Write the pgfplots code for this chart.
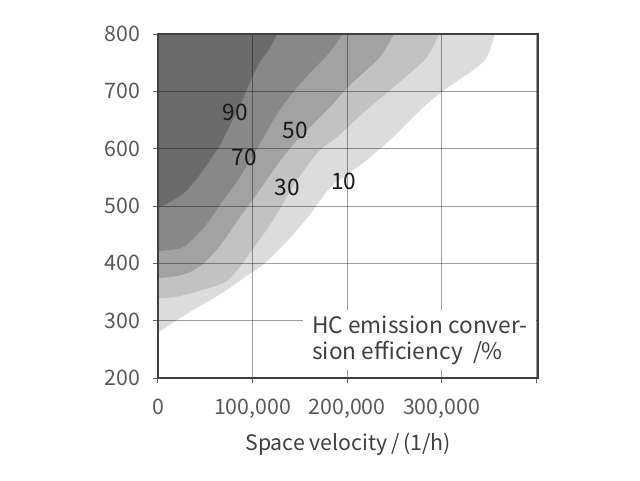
\documentclass[border=0pt]{standalone}
\usepackage{pgfplots}
\pgfplotsset{compat=1.18}
\usepackage{fontspec}
\setmainfont{Noto Sans CJK SC}
\definecolor{cA}{HTML}{6B6B6B}
\definecolor{cB}{HTML}{888888}
\definecolor{cC}{HTML}{A2A2A2}
\definecolor{cD}{HTML}{C2C2C2}
\definecolor{cE}{HTML}{DCDCDC}
\begin{document}
\begin{tikzpicture}[font=\fontsize{16}{19}\selectfont]
\path (-118.5pt,-76.5pt) rectangle (361.5pt,283.5pt);
\begin{axis}[scale only axis, width=285pt, height=258pt, at={(0,0)}, anchor=south west,
  xmin=0, xmax=402, ymin=200, ymax=800,
  xtick={0,100,200,300,400}, xticklabels={0,{100,000},{200,000},{300,000},{}},
  ytick={200,300,400,500,600,700,800},
  grid=major, major grid style={black, opacity=0.38, line width=0.7pt},
  axis on top,
  axis line style={draw=black!75, line width=0.8pt},
  tick align=outside, tick pos=left, major tick length=4pt,
  tick style={black!60, line width=0.75pt},
  ticklabel style={text=black!65},
  xticklabel style={yshift=-8pt},
  yticklabel style={xshift=-6pt},
  /pgf/number format/assume math mode=true,
  xlabel={Space velocity\,/\,(1/h)},
  xlabel style={at={(axis description cs:0.5,0)}, anchor=center, yshift=-50pt, text=black!75, font=\fontsize{16}{19}\selectfont},
]
\addplot[fill=cE, draw=none, smooth, tension=0.5] coordinates {(356.6,800)(348.1,759.9)(337.6,742.4)(322.8,725.0)(298.4,697.1)(274.1,662.2)(245.5,615.1)(216.9,575.0)(194.7,548.8)(179.9,527.9)(158.7,480.8)(137.6,440.7)(113.2,400.5)(92.1,376.1)(67.7,348.2)(31.7,313.3)(4.2,283.7)(0,280.2)} -- (axis cs:0,800) -- cycle;
\addplot[fill=cD, draw=none, smooth, tension=0.5] coordinates {(297.4,800)(284.7,759.9)(266.7,732.0)(245.5,702.3)(216.9,662.2)(189.4,620.3)(169.3,594.2)(145.0,540.1)(123.8,480.8)(99.5,423.2)(74.1,370.9)(46.6,353.5)(18.0,341.2)(0,339.5)} -- (axis cs:0,800) -- cycle;
\addplot[fill=cC, draw=none, smooth, tension=0.5] coordinates {(249.7,800)(234.9,759.9)(216.9,732.0)(200.0,705.8)(182.0,672.7)(163.0,641.3)(147.1,615.1)(132.3,585.5)(118.5,554.1)(103.7,519.2)(86.8,480.8)(67.7,435.4)(49.7,402.3)(31.7,383.1)(12.7,376.1)(0,374.4)} -- (axis cs:0,800) -- cycle;
\addplot[fill=cB, draw=none, smooth, tension=0.5] coordinates {(195.8,800)(179.9,765.1)(158.7,728.5)(139.7,691.9)(123.8,655.2)(110.1,615.1)(97.4,580.2)(84.7,545.3)(67.7,507.0)(49.7,465.1)(28.6,430.2)(12.7,423.2)(0,421.5)} -- (axis cs:0,800) -- cycle;
\addplot[fill=cA, draw=none, smooth, tension=0.5] coordinates {(125.9,800)(118.5,775.6)(107.9,751.2)(97.4,716.3)(86.8,676.2)(76.2,641.3)(65.6,606.4)(55.0,580.2)(42.3,550.6)(28.6,524.4)(12.7,507.0)(0,496.5)} -- (axis cs:0,800) -- cycle;
\node[text=black!90, font=\fontsize{17}{19}\selectfont] at (axis cs:81.5,663.9) {90};
\node[text=black!90, font=\fontsize{17}{19}\selectfont] at (axis cs:145.0,632.5) {50};
\node[text=black!90, font=\fontsize{17}{19}\selectfont] at (axis cs:91.0,585.5) {70};
\node[text=black!90, font=\fontsize{17}{19}\selectfont] at (axis cs:136.5,533.1) {30};
\node[text=black!90, font=\fontsize{17}{19}\selectfont] at (axis cs:196.5,543.6) {10};
\coordinate (ann) at (axis cs:163,266);
\end{axis}
\node[anchor=west, fill=white, inner xsep=6.75pt, inner ysep=4pt, align=left, text=black!75, font=\fontsize{17}{19.5}\selectfont] at ([xshift=-6.75pt]ann) {HC emission conver-\\sion efficiency~~/\%};
\end{tikzpicture}
\end{document}
